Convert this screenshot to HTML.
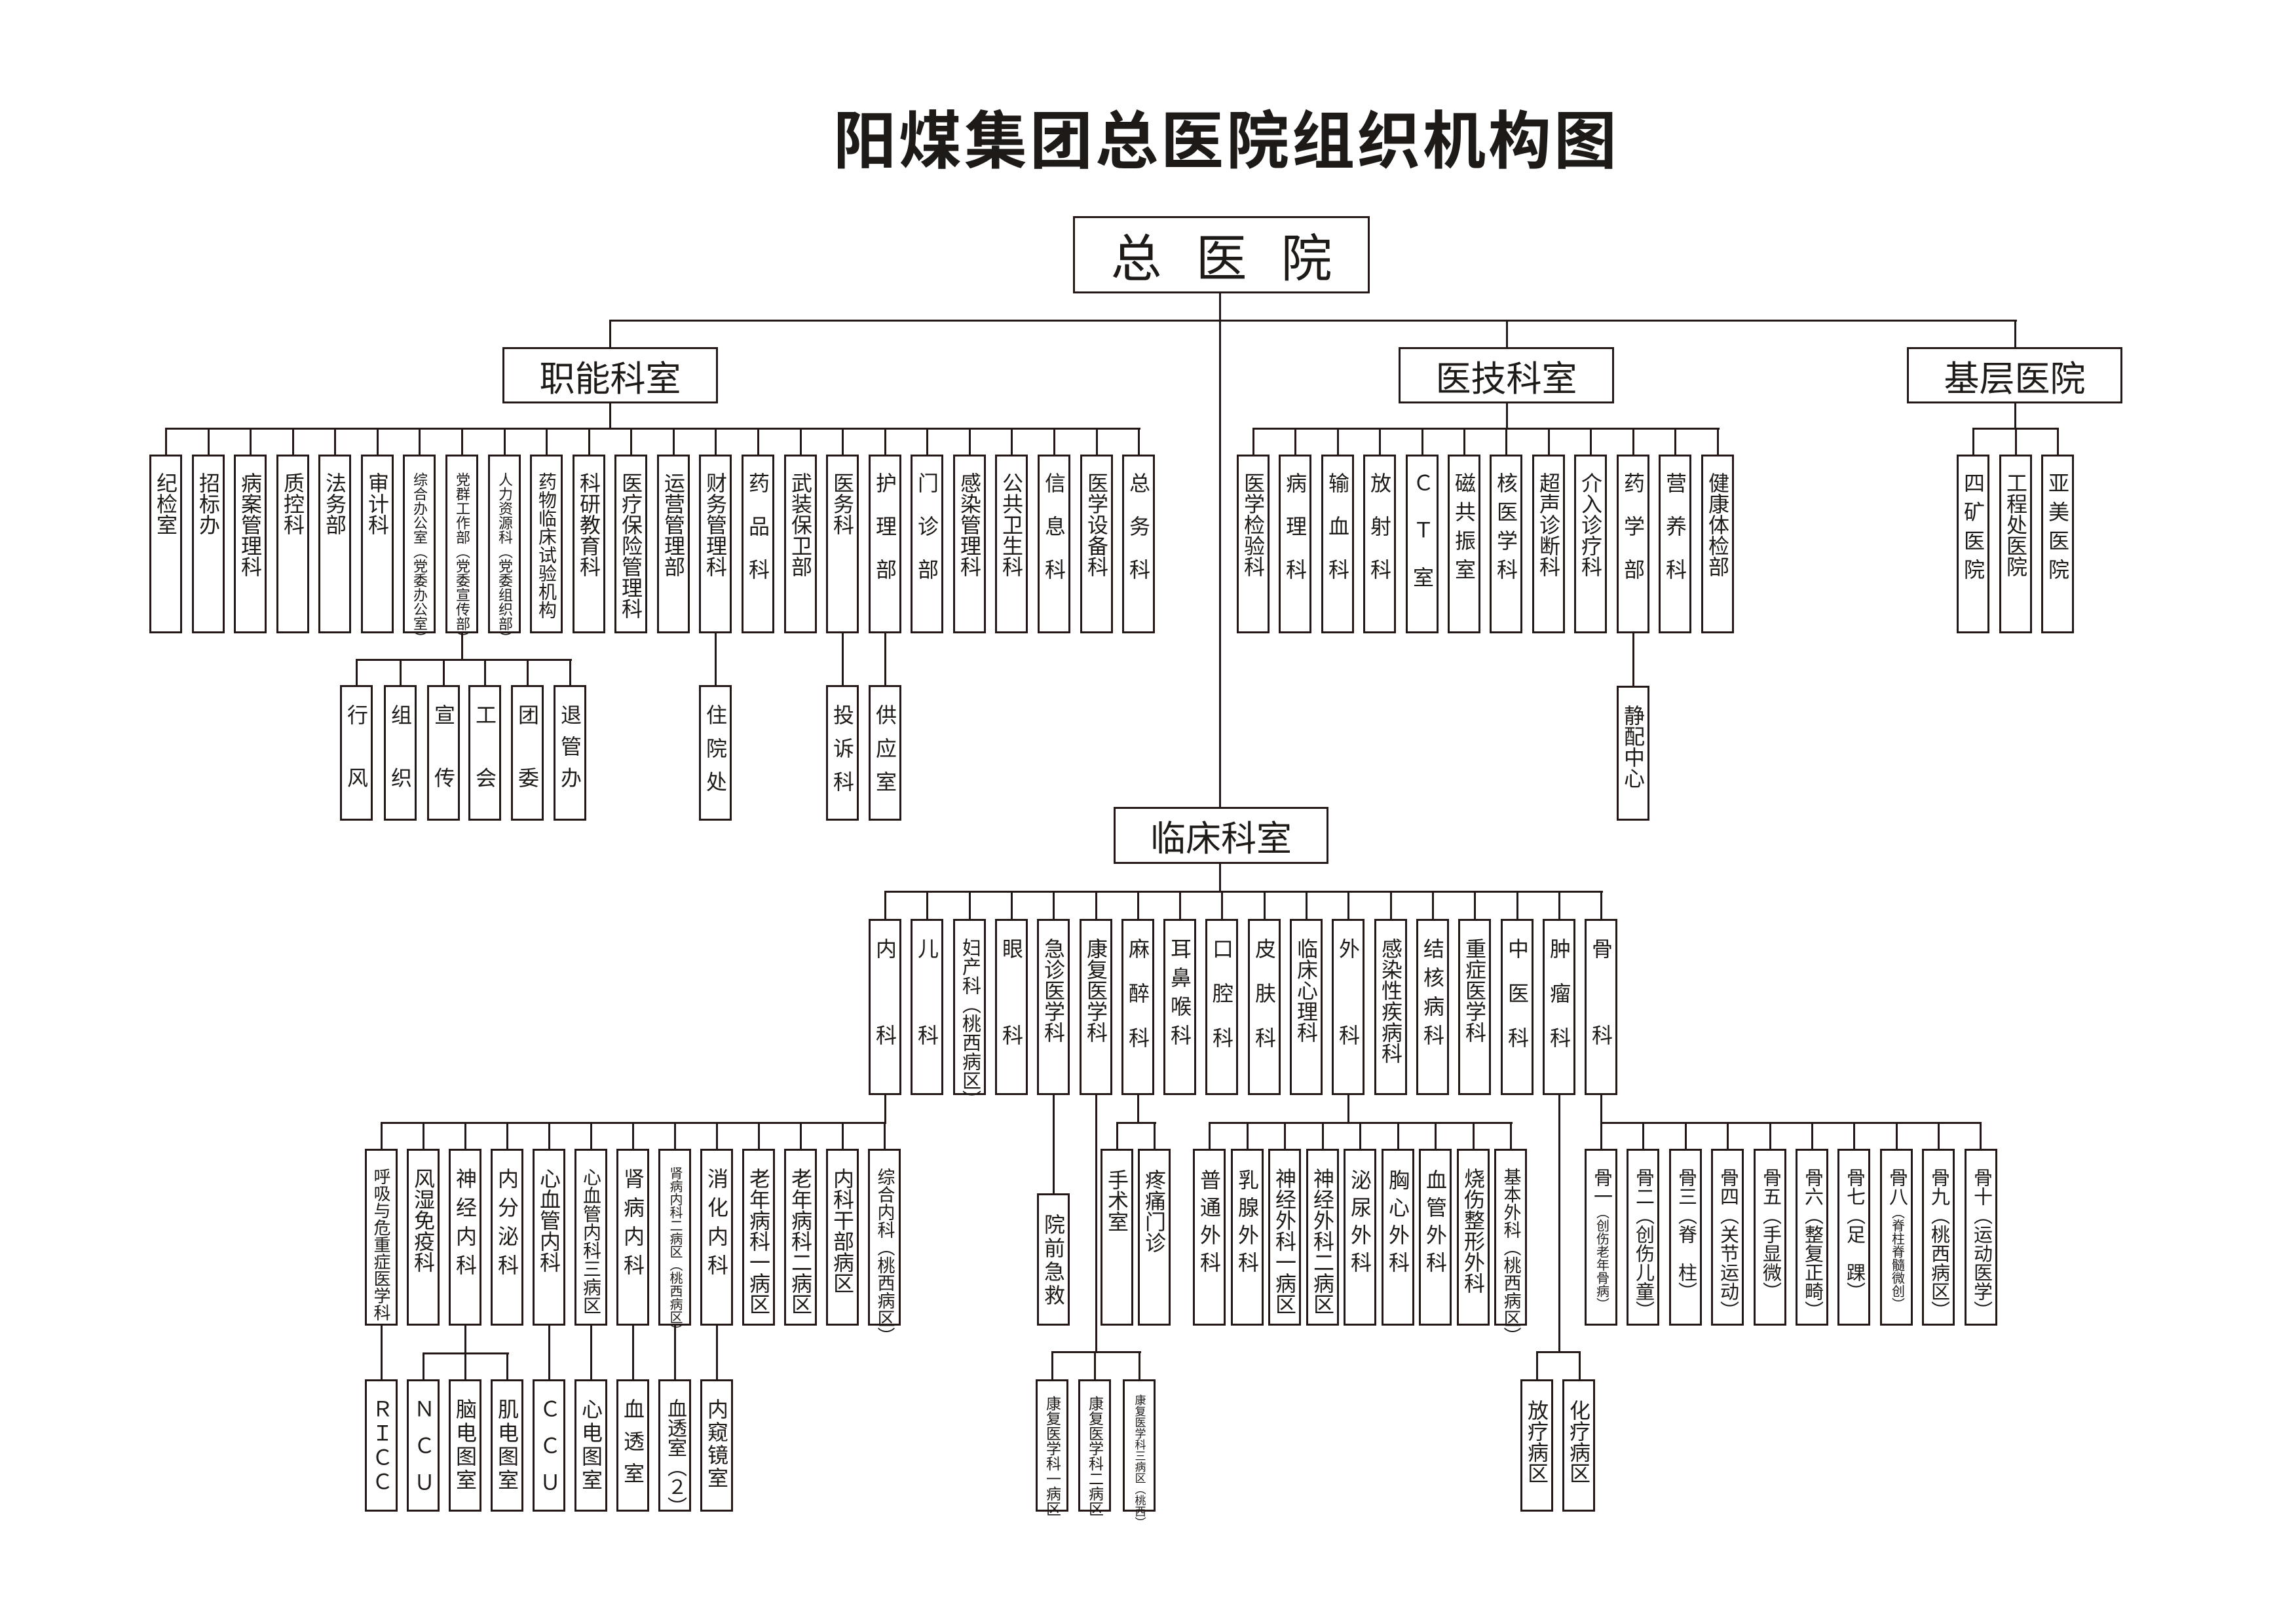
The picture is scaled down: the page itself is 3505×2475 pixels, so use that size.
<!DOCTYPE html>
<html><head><meta charset="utf-8">
<style>
html,body{margin:0;padding:0;background:#fff;}
#c{position:relative;width:3505px;height:2475px;overflow:hidden;background:#fff;font-family:"Liberation Sans","Noto Sans CJK SC",sans-serif;color:#1e1a18;}
.b{position:absolute;border:3px solid #231815;box-sizing:border-box;background:#fff;}
.t{position:absolute;top:24px;left:50%;transform:translateX(-50%);writing-mode:vertical-rl;font-size:32px;line-height:1;white-space:nowrap;}
.L{position:absolute;background:#231815;}
.hb{display:flex;align-items:center;justify-content:center;font-size:54px;}
</style></head><body><div id="c">

<div style="position:absolute;left:1267px;top:150px;width:1210px;text-align:center;font-size:96px;font-weight:bold;letter-spacing:4px;line-height:1.2;font-family:'Noto Sans CJK SC',sans-serif;">阳煤集团总医院组织机构图</div>

<div class="b hb" style="left:1638px;top:330px;width:453px;height:118px;font-size:78px;letter-spacing:52px;padding-left:52px;">总医院</div>
<div class="L" style="left:1861px;top:448px;width:3px;height:784px"></div>
<div class="L" style="left:930px;top:488px;width:2149px;height:3px"></div>
<div class="L" style="left:930px;top:489px;width:3px;height:41px"></div>
<div class="L" style="left:2299px;top:489px;width:3px;height:41px"></div>
<div class="L" style="left:3075px;top:489px;width:3px;height:41px"></div>

<div class="b hb" style="left:767px;top:530px;width:329px;height:86px;">职能科室</div>
<div class="b hb" style="left:2135px;top:530px;width:329px;height:86px;">医技科室</div>
<div class="b hb" style="left:2911px;top:530px;width:329px;height:86px;">基层医院</div>

<!-- 职能 -->
<div class="L" style="left:930px;top:616px;width:3px;height:38px"></div>
<div class="L" style="left:252px;top:653px;width:1489px;height:3px"></div>
<div class="L" style="left:252px;top:654px;width:3px;height:40px"></div>
<div class="L" style="left:317px;top:654px;width:3px;height:40px"></div>
<div class="L" style="left:381px;top:654px;width:3px;height:40px"></div>
<div class="L" style="left:446px;top:654px;width:3px;height:40px"></div>
<div class="L" style="left:510px;top:654px;width:3px;height:40px"></div>
<div class="L" style="left:575px;top:654px;width:3px;height:40px"></div>
<div class="L" style="left:639px;top:654px;width:3px;height:40px"></div>
<div class="L" style="left:704px;top:654px;width:3px;height:40px"></div>
<div class="L" style="left:769px;top:654px;width:3px;height:40px"></div>
<div class="L" style="left:833px;top:654px;width:3px;height:40px"></div>
<div class="L" style="left:898px;top:654px;width:3px;height:40px"></div>
<div class="L" style="left:962px;top:654px;width:3px;height:40px"></div>
<div class="L" style="left:1027px;top:654px;width:3px;height:40px"></div>
<div class="L" style="left:1091px;top:654px;width:3px;height:40px"></div>
<div class="L" style="left:1156px;top:654px;width:3px;height:40px"></div>
<div class="L" style="left:1221px;top:654px;width:3px;height:40px"></div>
<div class="L" style="left:1285px;top:654px;width:3px;height:40px"></div>
<div class="L" style="left:1350px;top:654px;width:3px;height:40px"></div>
<div class="L" style="left:1414px;top:654px;width:3px;height:40px"></div>
<div class="L" style="left:1479px;top:654px;width:3px;height:40px"></div>
<div class="L" style="left:1543px;top:654px;width:3px;height:40px"></div>
<div class="L" style="left:1608px;top:654px;width:3px;height:40px"></div>
<div class="L" style="left:1673px;top:654px;width:3px;height:40px"></div>
<div class="L" style="left:1737px;top:654px;width:3px;height:40px"></div>

<div class="b" style="left:228px;top:694px;width:50px;height:273px"><div class="t">纪检室</div></div>
<div class="b" style="left:293px;top:694px;width:50px;height:273px"><div class="t">招标办</div></div>
<div class="b" style="left:357px;top:694px;width:50px;height:273px"><div class="t">病案管理科</div></div>
<div class="b" style="left:422px;top:694px;width:50px;height:273px"><div class="t">质控科</div></div>
<div class="b" style="left:486px;top:694px;width:50px;height:273px"><div class="t">法务部</div></div>
<div class="b" style="left:551px;top:694px;width:50px;height:273px"><div class="t">审计科</div></div>
<div class="b" style="left:615px;top:694px;width:50px;height:273px"><div class="t" style="font-size:22px">综合办公室（党委办公室）</div></div>
<div class="b" style="left:680px;top:694px;width:50px;height:273px"><div class="t" style="font-size:22px">党群工作部（党委宣传部）</div></div>
<div class="b" style="left:745px;top:694px;width:50px;height:273px"><div class="t" style="font-size:22px">人力资源科（党委组织部）</div></div>
<div class="b" style="left:809px;top:694px;width:50px;height:273px"><div class="t" style="font-size:28px">药物临床试验机构</div></div>
<div class="b" style="left:874px;top:694px;width:50px;height:273px"><div class="t">科研教育科</div></div>
<div class="b" style="left:938px;top:694px;width:50px;height:273px"><div class="t">医疗保险管理科</div></div>
<div class="b" style="left:1003px;top:694px;width:50px;height:273px"><div class="t">运营管理部</div></div>
<div class="b" style="left:1067px;top:694px;width:50px;height:273px"><div class="t">财务管理科</div></div>
<div class="b" style="left:1132px;top:694px;width:50px;height:273px"><div class="t" style="letter-spacing:34px">药品科</div></div>
<div class="b" style="left:1197px;top:694px;width:50px;height:273px"><div class="t">武装保卫部</div></div>
<div class="b" style="left:1261px;top:694px;width:50px;height:273px"><div class="t">医务科</div></div>
<div class="b" style="left:1326px;top:694px;width:50px;height:273px"><div class="t" style="letter-spacing:34px">护理部</div></div>
<div class="b" style="left:1390px;top:694px;width:50px;height:273px"><div class="t" style="letter-spacing:34px">门诊部</div></div>
<div class="b" style="left:1455px;top:694px;width:50px;height:273px"><div class="t">感染管理科</div></div>
<div class="b" style="left:1519px;top:694px;width:50px;height:273px"><div class="t">公共卫生科</div></div>
<div class="b" style="left:1584px;top:694px;width:50px;height:273px"><div class="t" style="letter-spacing:34px">信息科</div></div>
<div class="b" style="left:1649px;top:694px;width:50px;height:273px"><div class="t">医学设备科</div></div>
<div class="b" style="left:1713px;top:694px;width:50px;height:273px"><div class="t" style="letter-spacing:34px">总务科</div></div>

<!-- 党群 sub -->
<div class="L" style="left:704px;top:967px;width:3px;height:40px"></div>
<div class="L" style="left:543px;top:1006px;width:330px;height:3px"></div>
<div class="L" style="left:543px;top:1007px;width:3px;height:39px"></div>
<div class="L" style="left:610px;top:1007px;width:3px;height:39px"></div>
<div class="L" style="left:676px;top:1007px;width:3px;height:39px"></div>
<div class="L" style="left:739px;top:1007px;width:3px;height:39px"></div>
<div class="L" style="left:804px;top:1007px;width:3px;height:39px"></div>
<div class="L" style="left:869px;top:1007px;width:3px;height:39px"></div>
<div class="b" style="left:519px;top:1046px;width:50px;height:207px"><div class="t" style="top:26px;letter-spacing:64px">行风</div></div>
<div class="b" style="left:586px;top:1046px;width:50px;height:207px"><div class="t" style="top:26px;letter-spacing:64px">组织</div></div>
<div class="b" style="left:652px;top:1046px;width:50px;height:207px"><div class="t" style="top:26px;letter-spacing:64px">宣传</div></div>
<div class="b" style="left:715px;top:1046px;width:50px;height:207px"><div class="t" style="top:26px;letter-spacing:64px">工会</div></div>
<div class="b" style="left:780px;top:1046px;width:50px;height:207px"><div class="t" style="top:26px;letter-spacing:64px">团委</div></div>
<div class="b" style="left:845px;top:1046px;width:50px;height:207px"><div class="t" style="top:26px;letter-spacing:16px">退管办</div></div>

<div class="L" style="left:1091px;top:967px;width:3px;height:79px"></div>
<div class="b" style="left:1067px;top:1046px;width:50px;height:207px"><div class="t" style="top:26px;letter-spacing:19px">住院处</div></div>
<div class="L" style="left:1285px;top:967px;width:3px;height:79px"></div>
<div class="b" style="left:1261px;top:1046px;width:50px;height:207px"><div class="t" style="top:26px;letter-spacing:19px">投诉科</div></div>
<div class="L" style="left:1350px;top:967px;width:3px;height:79px"></div>
<div class="b" style="left:1326px;top:1046px;width:50px;height:207px"><div class="t" style="top:26px;letter-spacing:19px">供应室</div></div>

<!-- 医技 -->
<div class="L" style="left:2299px;top:616px;width:3px;height:38px"></div>
<div class="L" style="left:1912px;top:653px;width:713px;height:3px"></div>
<div class="L" style="left:1912px;top:654px;width:3px;height:40px"></div>
<div class="L" style="left:1976px;top:654px;width:3px;height:40px"></div>
<div class="L" style="left:2041px;top:654px;width:3px;height:40px"></div>
<div class="L" style="left:2105px;top:654px;width:3px;height:40px"></div>
<div class="L" style="left:2170px;top:654px;width:3px;height:40px"></div>
<div class="L" style="left:2234px;top:654px;width:3px;height:40px"></div>
<div class="L" style="left:2298px;top:654px;width:3px;height:40px"></div>
<div class="L" style="left:2363px;top:654px;width:3px;height:40px"></div>
<div class="L" style="left:2427px;top:654px;width:3px;height:40px"></div>
<div class="L" style="left:2492px;top:654px;width:3px;height:40px"></div>
<div class="L" style="left:2556px;top:654px;width:3px;height:40px"></div>
<div class="L" style="left:2621px;top:654px;width:3px;height:40px"></div>
<div class="b" style="left:1888px;top:694px;width:50px;height:273px"><div class="t">医学检验科</div></div>
<div class="b" style="left:1952px;top:694px;width:50px;height:273px"><div class="t" style="letter-spacing:34px">病理科</div></div>
<div class="b" style="left:2017px;top:694px;width:50px;height:273px"><div class="t" style="letter-spacing:34px">输血科</div></div>
<div class="b" style="left:2081px;top:694px;width:50px;height:273px"><div class="t" style="letter-spacing:34px">放射科</div></div>
<div class="b" style="left:2146px;top:694px;width:50px;height:273px"><div class="t" style="letter-spacing:40px">ＣＴ室</div></div>
<div class="b" style="left:2210px;top:694px;width:50px;height:273px"><div class="t" style="letter-spacing:12px">磁共振室</div></div>
<div class="b" style="left:2274px;top:694px;width:50px;height:273px"><div class="t" style="letter-spacing:12px">核医学科</div></div>
<div class="b" style="left:2339px;top:694px;width:50px;height:273px"><div class="t">超声诊断科</div></div>
<div class="b" style="left:2403px;top:694px;width:50px;height:273px"><div class="t">介入诊疗科</div></div>
<div class="b" style="left:2468px;top:694px;width:50px;height:273px"><div class="t" style="letter-spacing:34px">药学部</div></div>
<div class="b" style="left:2532px;top:694px;width:50px;height:273px"><div class="t" style="letter-spacing:34px">营养科</div></div>
<div class="b" style="left:2597px;top:694px;width:50px;height:273px"><div class="t">健康体检部</div></div>
<div class="L" style="left:2492px;top:967px;width:3px;height:80px"></div>
<div class="b" style="left:2468px;top:1047px;width:50px;height:206px"><div class="t" style="top:26px">静配中心</div></div>

<!-- 基层 -->
<div class="L" style="left:3075px;top:616px;width:3px;height:38px"></div>
<div class="L" style="left:3011px;top:653px;width:132px;height:3px"></div>
<div class="L" style="left:3011px;top:654px;width:3px;height:40px"></div>
<div class="L" style="left:3076px;top:654px;width:3px;height:40px"></div>
<div class="L" style="left:3140px;top:654px;width:3px;height:40px"></div>
<div class="b" style="left:2987px;top:694px;width:50px;height:273px"><div class="t" style="letter-spacing:12px">四矿医院</div></div>
<div class="b" style="left:3052px;top:694px;width:50px;height:273px"><div class="t">工程处医院</div></div>
<div class="b" style="left:3116px;top:694px;width:50px;height:273px"><div class="t" style="letter-spacing:12px">亚美医院</div></div>

<!-- 临床 -->
<div class="b hb" style="left:1700px;top:1232px;width:328px;height:87px;">临床科室</div>
<div class="L" style="left:1861px;top:1319px;width:3px;height:42px"></div>
<div class="L" style="left:1350px;top:1360px;width:1097px;height:3px"></div>
<div class="L" style="left:1350px;top:1361px;width:3px;height:42px"></div>
<div class="L" style="left:1414px;top:1361px;width:3px;height:42px"></div>
<div class="L" style="left:1479px;top:1361px;width:3px;height:42px"></div>
<div class="L" style="left:1543px;top:1361px;width:3px;height:42px"></div>
<div class="L" style="left:1607px;top:1361px;width:3px;height:42px"></div>
<div class="L" style="left:1672px;top:1361px;width:3px;height:42px"></div>
<div class="L" style="left:1736px;top:1361px;width:3px;height:42px"></div>
<div class="L" style="left:1800px;top:1361px;width:3px;height:42px"></div>
<div class="L" style="left:1864px;top:1361px;width:3px;height:42px"></div>
<div class="L" style="left:1929px;top:1361px;width:3px;height:42px"></div>
<div class="L" style="left:1993px;top:1361px;width:3px;height:42px"></div>
<div class="L" style="left:2057px;top:1361px;width:3px;height:42px"></div>
<div class="L" style="left:2122px;top:1361px;width:3px;height:42px"></div>
<div class="L" style="left:2186px;top:1361px;width:3px;height:42px"></div>
<div class="L" style="left:2250px;top:1361px;width:3px;height:42px"></div>
<div class="L" style="left:2315px;top:1361px;width:3px;height:42px"></div>
<div class="L" style="left:2379px;top:1361px;width:3px;height:42px"></div>
<div class="L" style="left:2443px;top:1361px;width:3px;height:42px"></div>

<div class="b" style="left:1326px;top:1403px;width:50px;height:269px"><div class="t" style="top:26px;letter-spacing:100px">内科</div></div>
<div class="b" style="left:1390px;top:1403px;width:50px;height:269px"><div class="t" style="top:26px;letter-spacing:100px">儿科</div></div>
<div class="b" style="left:1455px;top:1403px;width:50px;height:269px"><div class="t" style="top:26px;font-size:29px">妇产科（桃西病区）</div></div>
<div class="b" style="left:1519px;top:1403px;width:50px;height:269px"><div class="t" style="top:26px;letter-spacing:100px">眼科</div></div>
<div class="b" style="left:1583px;top:1403px;width:50px;height:269px"><div class="t" style="top:26px">急诊医学科</div></div>
<div class="b" style="left:1648px;top:1403px;width:50px;height:269px"><div class="t" style="top:26px">康复医学科</div></div>
<div class="b" style="left:1712px;top:1403px;width:50px;height:269px"><div class="t" style="top:26px;letter-spacing:36px">麻醉科</div></div>
<div class="b" style="left:1776px;top:1403px;width:50px;height:269px"><div class="t" style="top:26px;letter-spacing:12px">耳鼻喉科</div></div>
<div class="b" style="left:1840px;top:1403px;width:50px;height:269px"><div class="t" style="top:26px;letter-spacing:36px">口腔科</div></div>
<div class="b" style="left:1905px;top:1403px;width:50px;height:269px"><div class="t" style="top:26px;letter-spacing:36px">皮肤科</div></div>
<div class="b" style="left:1969px;top:1403px;width:50px;height:269px"><div class="t" style="top:26px">临床心理科</div></div>
<div class="b" style="left:2033px;top:1403px;width:50px;height:269px"><div class="t" style="top:26px;letter-spacing:100px">外科</div></div>
<div class="b" style="left:2098px;top:1403px;width:50px;height:269px"><div class="t" style="top:26px">感染性疾病科</div></div>
<div class="b" style="left:2162px;top:1403px;width:50px;height:269px"><div class="t" style="top:26px;letter-spacing:12px">结核病科</div></div>
<div class="b" style="left:2226px;top:1403px;width:50px;height:269px"><div class="t" style="top:26px">重症医学科</div></div>
<div class="b" style="left:2291px;top:1403px;width:50px;height:269px"><div class="t" style="top:26px;letter-spacing:36px">中医科</div></div>
<div class="b" style="left:2355px;top:1403px;width:50px;height:269px"><div class="t" style="top:26px;letter-spacing:36px">肿瘤科</div></div>
<div class="b" style="left:2419px;top:1403px;width:50px;height:269px"><div class="t" style="top:26px;letter-spacing:100px">骨科</div></div>

<!-- 内科 sub -->
<div class="L" style="left:1350px;top:1672px;width:3px;height:42px"></div>
<div class="L" style="left:581px;top:1713px;width:772px;height:3px"></div>
<div class="L" style="left:581px;top:1714px;width:3px;height:40px"></div>
<div class="L" style="left:645px;top:1714px;width:3px;height:40px"></div>
<div class="L" style="left:709px;top:1714px;width:3px;height:40px"></div>
<div class="L" style="left:773px;top:1714px;width:3px;height:40px"></div>
<div class="L" style="left:837px;top:1714px;width:3px;height:40px"></div>
<div class="L" style="left:901px;top:1714px;width:3px;height:40px"></div>
<div class="L" style="left:965px;top:1714px;width:3px;height:40px"></div>
<div class="L" style="left:1029px;top:1714px;width:3px;height:40px"></div>
<div class="L" style="left:1093px;top:1714px;width:3px;height:40px"></div>
<div class="L" style="left:1157px;top:1714px;width:3px;height:40px"></div>
<div class="L" style="left:1221px;top:1714px;width:3px;height:40px"></div>
<div class="L" style="left:1285px;top:1714px;width:3px;height:40px"></div>
<div class="L" style="left:1349px;top:1714px;width:3px;height:40px"></div>
<div class="b" style="left:557px;top:1754px;width:50px;height:270px"><div class="t" style="top:26px;font-size:26px">呼吸与危重症医学科</div></div>
<div class="b" style="left:621px;top:1754px;width:50px;height:270px"><div class="t" style="top:26px">风湿免疫科</div></div>
<div class="b" style="left:685px;top:1754px;width:50px;height:270px"><div class="t" style="top:26px;letter-spacing:12px">神经内科</div></div>
<div class="b" style="left:749px;top:1754px;width:50px;height:270px"><div class="t" style="top:26px;letter-spacing:12px">内分泌科</div></div>
<div class="b" style="left:813px;top:1754px;width:50px;height:270px"><div class="t" style="top:26px">心血管内科</div></div>
<div class="b" style="left:877px;top:1754px;width:50px;height:270px"><div class="t" style="top:26px;font-size:28px">心血管内科三病区</div></div>
<div class="b" style="left:941px;top:1754px;width:50px;height:270px"><div class="t" style="top:26px;letter-spacing:12px">肾病内科</div></div>
<div class="b" style="left:1005px;top:1754px;width:50px;height:270px"><div class="t" style="top:24px;font-size:20px">肾病内科二病区（桃西病区）</div></div>
<div class="b" style="left:1069px;top:1754px;width:50px;height:270px"><div class="t" style="top:26px;letter-spacing:12px">消化内科</div></div>
<div class="b" style="left:1133px;top:1754px;width:50px;height:270px"><div class="t" style="top:26px">老年病科一病区</div></div>
<div class="b" style="left:1197px;top:1754px;width:50px;height:270px"><div class="t" style="top:26px">老年病科二病区</div></div>
<div class="b" style="left:1261px;top:1754px;width:50px;height:270px"><div class="t" style="top:26px">内科干部病区</div></div>
<div class="b" style="left:1325px;top:1754px;width:50px;height:270px"><div class="t" style="top:26px;font-size:27px">综合内科（桃西病区）</div></div>

<!-- 内科 4th -->
<div class="L" style="left:581px;top:2024px;width:3px;height:82px"></div>
<div class="L" style="left:709px;top:2024px;width:3px;height:42px"></div>
<div class="L" style="left:645px;top:2065px;width:132px;height:3px"></div>
<div class="L" style="left:645px;top:2066px;width:3px;height:40px"></div>
<div class="L" style="left:709px;top:2066px;width:3px;height:40px"></div>
<div class="L" style="left:773px;top:2066px;width:3px;height:40px"></div>
<div class="L" style="left:837px;top:2024px;width:3px;height:82px"></div>
<div class="L" style="left:901px;top:2024px;width:3px;height:82px"></div>
<div class="L" style="left:965px;top:2024px;width:3px;height:82px"></div>
<div class="L" style="left:1029px;top:2024px;width:3px;height:82px"></div>
<div class="L" style="left:1093px;top:2024px;width:3px;height:82px"></div>
<div class="b" style="left:557px;top:2106px;width:50px;height:202px"><div class="t" style="top:26px;letter-spacing:5px">ＲＩＣＣ</div></div>
<div class="b" style="left:621px;top:2106px;width:50px;height:202px"><div class="t" style="top:26px;letter-spacing:24px">ＮＣＵ</div></div>
<div class="b" style="left:685px;top:2106px;width:50px;height:202px"><div class="t" style="top:26px;letter-spacing:4px">脑电图室</div></div>
<div class="b" style="left:749px;top:2106px;width:50px;height:202px"><div class="t" style="top:26px;letter-spacing:4px">肌电图室</div></div>
<div class="b" style="left:813px;top:2106px;width:50px;height:202px"><div class="t" style="top:26px;letter-spacing:24px">ＣＣＵ</div></div>
<div class="b" style="left:877px;top:2106px;width:50px;height:202px"><div class="t" style="top:26px;letter-spacing:4px">心电图室</div></div>
<div class="b" style="left:941px;top:2106px;width:50px;height:202px"><div class="t" style="top:26px;letter-spacing:17px">血透室</div></div>
<div class="b" style="left:1005px;top:2106px;width:50px;height:202px"><div class="t" style="top:26px;font-size:30px">血透室（２）</div></div>
<div class="b" style="left:1069px;top:2106px;width:50px;height:202px"><div class="t" style="top:26px;letter-spacing:3px">内窥镜室</div></div>

<!-- 急诊 -->
<div class="L" style="left:1607px;top:1672px;width:3px;height:150px"></div>
<div class="b" style="left:1583px;top:1822px;width:50px;height:202px"><div class="t" style="top:28px;letter-spacing:4px">院前急救</div></div>

<!-- 康复 -->
<div class="L" style="left:1672px;top:1672px;width:3px;height:392px"></div>
<div class="L" style="left:1605px;top:2063px;width:137px;height:3px"></div>
<div class="L" style="left:1605px;top:2064px;width:3px;height:42px"></div>
<div class="L" style="left:1670px;top:2064px;width:3px;height:42px"></div>
<div class="L" style="left:1738px;top:2064px;width:3px;height:42px"></div>
<div class="b" style="left:1581px;top:2106px;width:50px;height:202px"><div class="t" style="top:22px;font-size:23px">康复医学科一病区</div></div>
<div class="b" style="left:1646px;top:2106px;width:50px;height:202px"><div class="t" style="top:22px;font-size:23px">康复医学科二病区</div></div>
<div class="b" style="left:1714px;top:2106px;width:50px;height:202px"><div class="t" style="top:20px;font-size:17px">康复医学科三病区（桃西）</div></div>

<!-- 麻醉 -->
<div class="L" style="left:1736px;top:1672px;width:3px;height:42px"></div>
<div class="L" style="left:1704px;top:1713px;width:61px;height:3px"></div>
<div class="L" style="left:1704px;top:1714px;width:3px;height:40px"></div>
<div class="L" style="left:1761px;top:1714px;width:3px;height:40px"></div>
<div class="b" style="left:1680px;top:1754px;width:50px;height:270px"><div class="t" style="top:28px">手术室</div></div>
<div class="b" style="left:1737px;top:1754px;width:50px;height:270px"><div class="t" style="top:28px">疼痛门诊</div></div>

<!-- 外科 sub -->
<div class="L" style="left:2057px;top:1672px;width:3px;height:42px"></div>
<div class="L" style="left:1845px;top:1713px;width:464px;height:3px"></div>
<div class="L" style="left:1845px;top:1714px;width:3px;height:40px"></div>
<div class="L" style="left:1903px;top:1714px;width:3px;height:40px"></div>
<div class="L" style="left:1960px;top:1714px;width:3px;height:40px"></div>
<div class="L" style="left:2018px;top:1714px;width:3px;height:40px"></div>
<div class="L" style="left:2075px;top:1714px;width:3px;height:40px"></div>
<div class="L" style="left:2133px;top:1714px;width:3px;height:40px"></div>
<div class="L" style="left:2190px;top:1714px;width:3px;height:40px"></div>
<div class="L" style="left:2248px;top:1714px;width:3px;height:40px"></div>
<div class="L" style="left:2305px;top:1714px;width:3px;height:40px"></div>
<div class="b" style="left:1821px;top:1754px;width:50px;height:270px"><div class="t" style="top:28px;letter-spacing:10px">普通外科</div></div>
<div class="b" style="left:1879px;top:1754px;width:50px;height:270px"><div class="t" style="top:28px;letter-spacing:10px">乳腺外科</div></div>
<div class="b" style="left:1936px;top:1754px;width:50px;height:270px"><div class="t" style="top:26px">神经外科一病区</div></div>
<div class="b" style="left:1994px;top:1754px;width:50px;height:270px"><div class="t" style="top:26px">神经外科二病区</div></div>
<div class="b" style="left:2051px;top:1754px;width:50px;height:270px"><div class="t" style="top:28px;letter-spacing:10px">泌尿外科</div></div>
<div class="b" style="left:2109px;top:1754px;width:50px;height:270px"><div class="t" style="top:28px;letter-spacing:10px">胸心外科</div></div>
<div class="b" style="left:2166px;top:1754px;width:50px;height:270px"><div class="t" style="top:28px;letter-spacing:10px">血管外科</div></div>
<div class="b" style="left:2224px;top:1754px;width:50px;height:270px"><div class="t" style="top:26px">烧伤整形外科</div></div>
<div class="b" style="left:2281px;top:1754px;width:50px;height:270px"><div class="t" style="top:26px;font-size:27px">基本外科（桃西病区）</div></div>

<!-- 肿瘤 -->
<div class="L" style="left:2379px;top:1672px;width:3px;height:392px"></div>
<div class="L" style="left:2345px;top:2063px;width:68px;height:3px"></div>
<div class="L" style="left:2345px;top:2064px;width:3px;height:42px"></div>
<div class="L" style="left:2410px;top:2064px;width:3px;height:42px"></div>
<div class="b" style="left:2321px;top:2106px;width:50px;height:202px"><div class="t" style="top:28px">放疗病区</div></div>
<div class="b" style="left:2385px;top:2106px;width:50px;height:202px"><div class="t" style="top:28px">化疗病区</div></div>

<!-- 骨 sub -->
<div class="L" style="left:2443px;top:1672px;width:3px;height:42px"></div>
<div class="L" style="left:2443px;top:1713px;width:582px;height:3px"></div>
<div class="L" style="left:2443px;top:1714px;width:3px;height:40px"></div>
<div class="L" style="left:2507px;top:1714px;width:3px;height:40px"></div>
<div class="L" style="left:2572px;top:1714px;width:3px;height:40px"></div>
<div class="L" style="left:2636px;top:1714px;width:3px;height:40px"></div>
<div class="L" style="left:2701px;top:1714px;width:3px;height:40px"></div>
<div class="L" style="left:2765px;top:1714px;width:3px;height:40px"></div>
<div class="L" style="left:2829px;top:1714px;width:3px;height:40px"></div>
<div class="L" style="left:2894px;top:1714px;width:3px;height:40px"></div>
<div class="L" style="left:2958px;top:1714px;width:3px;height:40px"></div>
<div class="L" style="left:3022px;top:1714px;width:3px;height:40px"></div>
<div class="b" style="left:2419px;top:1754px;width:50px;height:270px"><div class="t" style="top:26px;font-size:29px">骨一<span style="font-size:20px">（创伤老年骨病）</span></div></div>
<div class="b" style="left:2483px;top:1754px;width:50px;height:270px"><div class="t" style="top:26px;font-size:29px">骨二（创伤儿童）</div></div>
<div class="b" style="left:2548px;top:1754px;width:50px;height:270px"><div class="t" style="top:26px;font-size:29px">骨三（脊　柱）</div></div>
<div class="b" style="left:2612px;top:1754px;width:50px;height:270px"><div class="t" style="top:26px;font-size:29px">骨四（关节运动）</div></div>
<div class="b" style="left:2677px;top:1754px;width:50px;height:270px"><div class="t" style="top:26px;font-size:29px">骨五（手显微）</div></div>
<div class="b" style="left:2741px;top:1754px;width:50px;height:270px"><div class="t" style="top:26px;font-size:29px">骨六（整复正畸）</div></div>
<div class="b" style="left:2805px;top:1754px;width:50px;height:270px"><div class="t" style="top:26px;font-size:29px">骨七（足　踝）</div></div>
<div class="b" style="left:2870px;top:1754px;width:50px;height:270px"><div class="t" style="top:26px;font-size:29px">骨八<span style="font-size:20px">（脊柱脊髓微创）</span></div></div>
<div class="b" style="left:2934px;top:1754px;width:50px;height:270px"><div class="t" style="top:26px;font-size:29px">骨九（桃西病区）</div></div>
<div class="b" style="left:2999px;top:1754px;width:50px;height:270px"><div class="t" style="top:26px;font-size:29px">骨十（运动医学）</div></div>

</div></body></html>
